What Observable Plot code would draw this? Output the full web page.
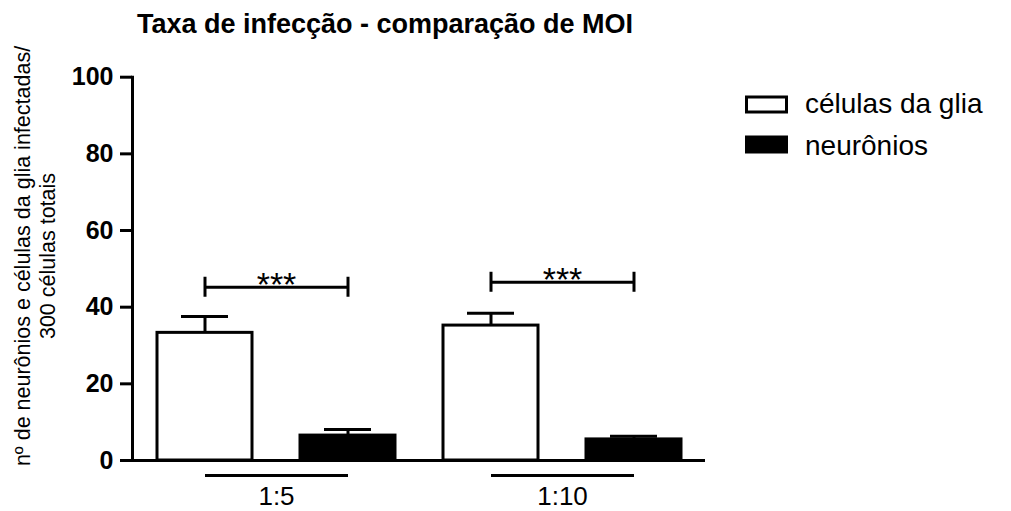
<!DOCTYPE html>
<html>
<head>
<meta charset="utf-8">
<script src="https://cdn.jsdelivr.net/npm/d3@7"></script>
<script src="https://cdn.jsdelivr.net/npm/@observablehq/plot@0.6"></script>
<style>
  body { margin: 0; background: #fff; }
  #wrap { position: relative; width: 1011px; height: 511px; overflow: hidden; background: #fff; }
  #wrap svg.overlay { position: absolute; left: 0; top: 0; pointer-events: none; }
  #chart svg { display: block; }
</style>
</head>
<body>
<div id="wrap"><div id="chart"></div></div>
<script>
// ---- data ----
const chartTitle = "Taxa de infecção - comparação de MOI";
const yLabelLines = ["nº de neurônios e células da glia infectadas/", "300 células totais"];
const moiLabels = ["1:5", "1:10"];
const cellTypes = ["células da glia", "neurônios"];
const gliaMeans = [33.3, 35.2];
const gliaErrors = [4.3, 3.2];
const neuronMeans = [6.5, 5.5];
const neuronErrors = [1.6, 0.8];
const bracketLevels = [45.2, 46.5];
const significance = ["***", "***"];
const yTicks = [0, 20, 40, 60, 80, 100];

const FONT = 'Arial, "Liberation Sans", sans-serif';
const keyOf = (m, c) => m + " · " + c;

const rows = [];
moiLabels.forEach((m, i) => {
  rows.push({moi: m, cell: cellTypes[0], key: keyOf(m, cellTypes[0]), mean: gliaMeans[i], err: gliaErrors[i]});
  rows.push({moi: m, cell: cellTypes[1], key: keyOf(m, cellTypes[1]), mean: neuronMeans[i], err: neuronErrors[i]});
});
const groups = moiLabels.map((m, i) => ({
  moi: m, glia: keyOf(m, cellTypes[0]), neuron: keyOf(m, cellTypes[1]),
  level: bracketLevels[i], sig: significance[i]
}));

function draw(half) {
  return Plot.plot({
    width: 1011, height: 511,
    marginLeft: 132, marginRight: 306, marginTop: 76.7, marginBottom: 51,
    style: {fontFamily: FONT, color: "black", background: "white", overflow: "visible"},
    x: {domain: rows.map(d => d.key), paddingInner: 0.337, paddingOuter: 0.168, axis: null},
    y: {domain: [0, 100]},
    color: {domain: cellTypes, range: ["white", "black"]},
    marks: [
      Plot.barY(rows, {x: "key", y: "mean", fill: "cell", stroke: "black", strokeWidth: 3}),
      Plot.ruleX(rows, {x: "key", y1: "mean", y2: d => d.mean + d.err, stroke: "black", strokeWidth: 3}),
      Plot.tickY(rows, {x: "key", y: d => d.mean + d.err, stroke: "black", strokeWidth: 3, insetLeft: 24, insetRight: 24}),
      // significance brackets
      Plot.link(groups, {x1: "glia", x2: "neuron", y1: "level", y2: "level", stroke: "black", strokeWidth: 3}),
      Plot.ruleX(groups, {x: "glia", y1: "level", y2: "level", insetTop: 10, insetBottom: 10, stroke: "black", strokeWidth: 3}),
      Plot.ruleX(groups, {x: "neuron", y1: "level", y2: "level", insetTop: 10, insetBottom: 10, stroke: "black", strokeWidth: 3}),
      Plot.text(groups, {x: "glia", y: "level", text: "sig", dx: half, dy: 9, lineAnchor: "bottom", fontSize: 34, fill: "black"}),
      // category underlines & labels
      Plot.link(groups, {x1: "glia", x2: "neuron", y1: () => 0, y2: () => 0, dy: 15, stroke: "black", strokeWidth: 3}),
      Plot.text(groups, {x: "glia", y: () => 0, text: "moi", dx: half, dy: 44.5, lineAnchor: "bottom", fontSize: 26, fill: "black"}),
      // axes
      Plot.ruleY([0], {stroke: "black", strokeWidth: 3}),
      Plot.frame({anchor: "left", stroke: "black", strokeWidth: 3}),
      Plot.axisY({ticks: yTicks, tickSize: 12, tickPadding: 7, fontSize: 25, fontWeight: "bold", strokeWidth: 3, label: null, tickFormat: d3.format("d")})
    ]
  });
}

const probe = draw(0);
const half = probe.scale("x").step / 2;
const chart = draw(half);
document.getElementById("chart").appendChild(chart);

// ---- title, y label and legend as real text ----
const svg = d3.select("#wrap").append("svg")
  .attr("class", "overlay").attr("width", 1011).attr("height", 511)
  .style("font-family", FONT);

svg.append("text")
  .attr("x", 385).attr("y", 33).attr("text-anchor", "middle")
  .attr("font-size", 27).attr("font-weight", "bold").attr("fill", "black")
  .text(chartTitle);

const yl = svg.append("g").attr("transform", "translate(0,256) rotate(-90)");
yLabelLines.forEach((line, i) => {
  yl.append("text").attr("x", 0).attr("y", 30 + i * 25)
    .attr("text-anchor", "middle").attr("font-size", 21.5).attr("fill", "black")
    .text(line);
});

const legendFill = d3.scaleOrdinal(cellTypes, ["white", "black"]);
const lg = svg.append("g");
cellTypes.forEach((c, i) => {
  const top = 97 + i * 40;
  lg.append("rect").attr("x", 746.5).attr("y", top).attr("width", 40).attr("height", 15)
    .attr("fill", legendFill(c)).attr("stroke", "black").attr("stroke-width", 3);
  lg.append("text").attr("x", 805).attr("y", 113 + i * 42)
    .attr("font-size", 28).attr("fill", "black").text(c);
});
</script>
</body>
</html>
